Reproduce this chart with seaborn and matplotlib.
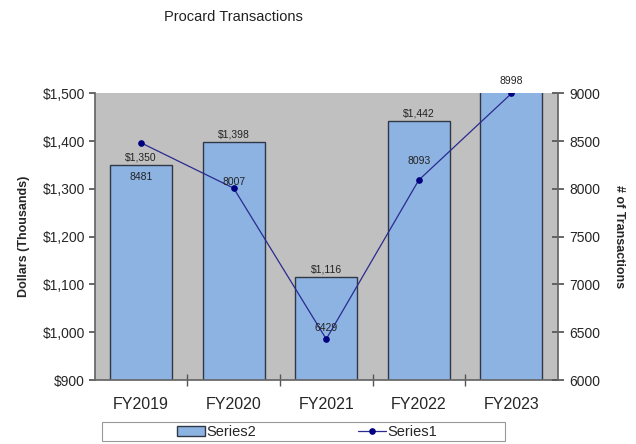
import matplotlib
matplotlib.use("Agg")
import matplotlib.pyplot as plt
from matplotlib.ticker import FuncFormatter, FixedLocator
from matplotlib.patches import Rectangle
import seaborn as sns
import pandas as pd

years = ["FY2019", "FY2020", "FY2021", "FY2022", "FY2023"]
dollars_k = [1350, 1398, 1116, 1442, 1560]
transactions = [8481, 8007, 6429, 8093, 8998]
dollar_labels = ["$1,350", "$1,398", "$1,116", "$1,442", "$1,560"]
# label offsets (points) for the transaction counts
txn_offsets = [(0, -28), (0, 1), (0, 4), (0, 10), (0, 5)]

sns.set_theme(style="white")
plt.rcParams["font.family"] = ["Liberation Sans Narrow", "Liberation Sans", "DejaVu Sans"]

df = pd.DataFrame({"year": years, "dollars": dollars_k, "txn": transactions})

fig = plt.figure(figsize=(6.36, 4.44), dpi=100)
ax = fig.add_axes([0.149, 0.144, 0.728, 0.646])
ax.set_facecolor("#C0C0C0")

bar_color = "#8DB3E2"
sns.barplot(data=df, x="year", y="dollars", ax=ax, color=bar_color,
            width=0.67, edgecolor="#303845", linewidth=1.0, saturation=1,
            label="Series2")
ax.set_ylim(900, 1500)
ax.set_xlim(-0.5, 4.5)
ax.yaxis.set_major_formatter(FuncFormatter(lambda v, p: f"${v:,.0f}"))
ax.set_yticks(range(900, 1501, 100))
ax.set_xlabel("")
ax.set_ylabel("Dollars (Thousands)", fontsize=9, fontweight="bold", labelpad=9,
              family=["Liberation Sans", "DejaVu Sans"])
ax.tick_params(axis="y", labelsize=10, length=4, direction="out", color="#555555", pad=3)
ax.tick_params(axis="x", which="major", labelsize=11.5, length=0, pad=12)
ax.xaxis.set_minor_locator(FixedLocator([0.5, 1.5, 2.5, 3.5]))
ax.tick_params(axis="x", which="minor", length=8, direction="inout", color="#555555")
ax.tick_params(axis="y", left=True)
ax.tick_params(axis="x", bottom=True, which="minor")

for i, (v, lab) in enumerate(zip(dollars_k, dollar_labels)):
    ax.annotate(lab, (i, v), xytext=(0, 2), textcoords="offset points",
                ha="center", va="bottom", fontsize=7.5, color="#222222",
                annotation_clip=True)

for s in ["top", "right"]:
    ax.spines[s].set_visible(False)
ax.spines["left"].set_color("#666666")
ax.spines["bottom"].set_color("#666666")

ax2 = ax.twinx()
line_color = "#2A2A90"
sns.lineplot(x=list(range(len(years))), y=transactions, ax=ax2, color=line_color,
             marker="o", markersize=4, linewidth=0.9, markeredgecolor="#000080",
             markerfacecolor="#000080", label="Series1")
ax2.set_ylim(6000, 9000)
ax2.set_xlim(-0.5, 4.5)
ax2.set_yticks(range(6000, 9001, 500))
ax2.tick_params(axis="y", labelsize=10, length=8, direction="inout", color="#555555", pad=4)
ax2.set_ylabel("# of Transactions", fontsize=9, fontweight="bold", rotation=270,
               labelpad=18, family=["Liberation Sans", "DejaVu Sans"])
for s in ["top", "left", "bottom"]:
    ax2.spines[s].set_visible(False)
ax2.spines["right"].set_color("#666666")

for i, (v, off) in enumerate(zip(transactions, txn_offsets)):
    ax2.annotate(f"{v}", (i, v), xytext=off, textcoords="offset points",
                 ha="center", va="bottom", fontsize=7.5, color="#222222",
                 annotation_clip=False)

if ax.get_legend():
    ax.get_legend().remove()
if ax2.get_legend():
    ax2.get_legend().remove()
h1, l1 = ax.get_legend_handles_labels()
h2, l2 = ax2.get_legend_handles_labels()
fig.legend(h1 + h2, l1 + l2, loc="center", bbox_to_anchor=(0.483, 0.027),
           ncol=2, frameon=False, fontsize=10.5,
           handlelength=1.9, handletextpad=0.1, columnspacing=7.0)
fig.patches.append(Rectangle((102 / 636, 3 / 444), 403 / 636, 19 / 444,
                             transform=fig.transFigure, fill=False,
                             edgecolor="#999999", linewidth=0.8))

fig.text(0.367, 0.962, "Procard Transactions", ha="center", va="center", fontsize=10.5,
         color="#222222")

fig.savefig("out.png", dpi=100, facecolor="white")
